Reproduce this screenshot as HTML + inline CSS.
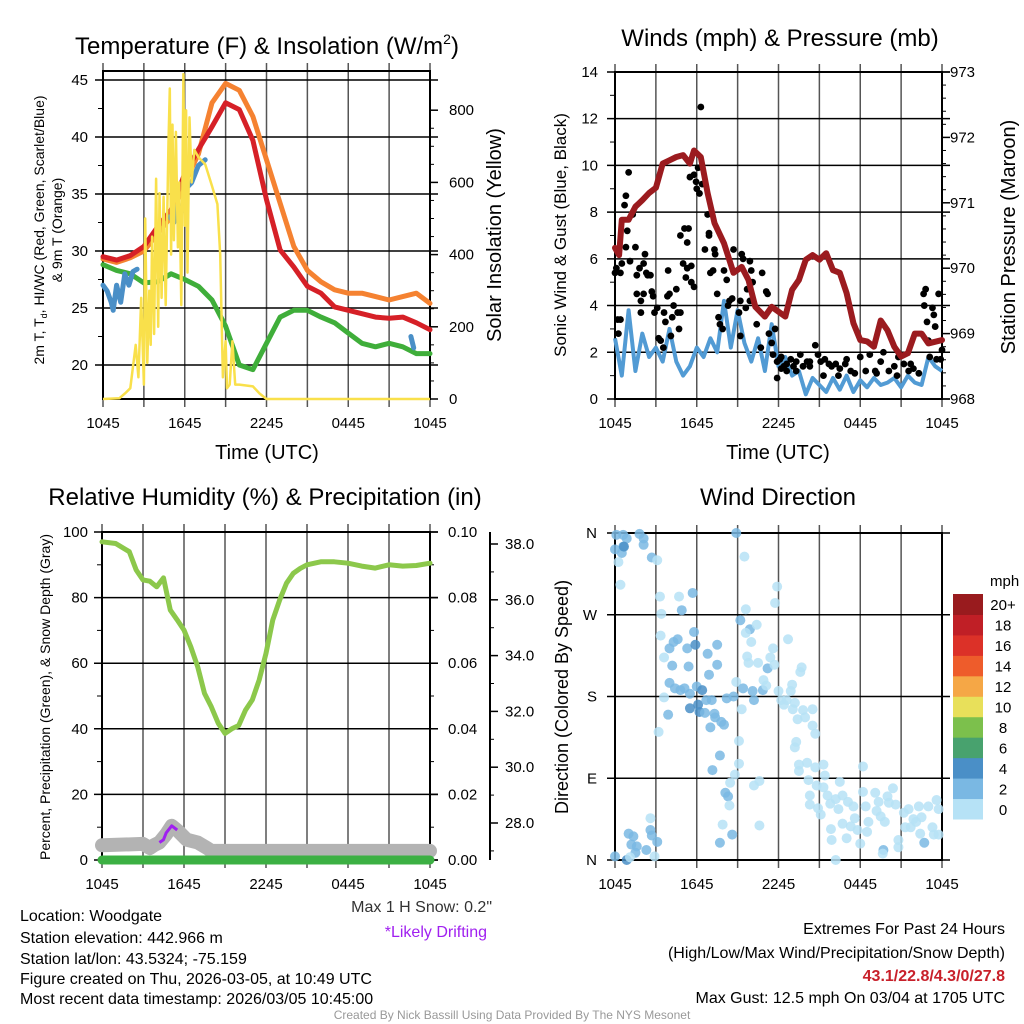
<!DOCTYPE html>
<html><head><meta charset="utf-8">
<style>
html,body{margin:0;padding:0;background:#fff;}
svg{display:block;font-family:"Liberation Sans",Arial,sans-serif;}
</style></head>
<body>
<svg id="c" width="1024" height="1024" viewBox="0 0 1024 1024" xmlns="http://www.w3.org/2000/svg">
<rect width="1024" height="1024" fill="#fff"/>
<text x="267" y="54" font-size="24" text-anchor="middle">Temperature (F) &amp; Insolation (W/m<tspan font-size="14" dy="-10">2</tspan><tspan dy="10">)</tspan></text>
<text x="780" y="46" font-size="24" text-anchor="middle">Winds (mph) &amp; Pressure (mb)</text>
<text x="265" y="505" font-size="24" text-anchor="middle">Relative Humidity (%) &amp; Precipitation (in)</text>
<text x="778" y="505" font-size="24" text-anchor="middle">Wind Direction</text>
<text x="267" y="459" font-size="20" text-anchor="middle">Time (UTC)</text>
<text x="778" y="459" font-size="20" text-anchor="middle">Time (UTC)</text>
<text transform="translate(44,230) rotate(-90)" font-size="14" text-anchor="middle">2m T, T<tspan font-size="9" dy="3">d</tspan><tspan dy="-3">, HI/WC (Red, Green, Scarlet/Blue)</tspan></text>
<text transform="translate(62,230) rotate(-90)" font-size="14" text-anchor="middle">&amp; 9m T (Orange)</text>
<text transform="translate(501,235) rotate(-90)" font-size="20" text-anchor="middle">Solar Insolation (Yellow)</text>
<text transform="translate(566,235) rotate(-90)" font-size="17" text-anchor="middle">Sonic Wind &amp; Gust (Blue, Black)</text>
<text transform="translate(1015,237) rotate(-90)" font-size="20" text-anchor="middle">Station Pressure (Maroon)</text>
<text transform="translate(50,697) rotate(-90)" font-size="14" text-anchor="middle">Percent, Precipitation (Green), &amp; Snow Depth (Gray)</text>
<text transform="translate(568,697) rotate(-90)" font-size="18" text-anchor="middle">Direction (Colored By Speed)</text>
<g font-size="16">
<text x="20" y="921">Location: Woodgate</text>
<text x="20" y="943">Station elevation: 442.966 m</text>
<text x="20" y="964">Station lat/lon: 43.5324; -75.159</text>
<text x="20" y="984">Figure created on Thu, 2026-03-05, at 10:49 UTC</text>
<text x="20" y="1004">Most recent data timestamp: 2026/03/05 10:45:00</text>
</g>
<text x="492" y="912" font-size="16" fill="#333" text-anchor="end">Max 1 H Snow: 0.2"</text>
<text x="487" y="937" font-size="16" fill="#a020f0" text-anchor="end">*Likely Drifting</text>
<g font-size="16" text-anchor="end">
<text x="1005" y="934">Extremes For Past 24 Hours</text>
<text x="1005" y="958">(High/Low/Max Wind/Precipitation/Snow Depth)</text>
<text x="1005" y="981" fill="#c8202a" font-weight="bold">43.1/22.8/4.3/0/27.8</text>
<text x="1005" y="1003">Max Gust: 12.5 mph On 03/04 at 1705 UTC</text>
</g>
<text x="512" y="1019" font-size="12" fill="#999" text-anchor="middle">Created By Nick Bassill Using Data Provided By The NYS Mesonet</text>
</svg>
<script>
const hours = [0,1,2,3,4,5,6,7,8,9,10,11,12,13,14,15,16,17,18,19,20,21,22,23,24];
const xTickLabels = ["1045","1645","2245","0445","1045"];
const tempTicks = [20,25,30,35,40,45];
const solarTicks = [0,200,400,600,800];
const temp2m = [29.5,29.2,29.6,30.4,32.1,33.6,36.8,38.9,40.9,43,42.4,39.7,34.5,30.1,28.6,26.9,26.3,25.1,24.8,24.5,24.2,24.1,24.2,23.7,23.1];
const temp9m = [29.3,29.0,29.4,30.0,31.5,33.0,36.0,38.5,43.0,44.7,44.1,41.8,38.0,34.2,30.4,28.3,27.3,26.6,26.3,26.3,26.0,25.7,26.0,26.3,25.4];
const dewpoint = [28.8,28.3,28.0,27.2,27.3,28.0,27.5,26.9,25.7,23.4,20.0,19.6,21.9,24.2,24.8,24.8,24.2,23.7,22.8,21.9,21.6,21.9,21.6,21.0,21.0];
const windChillT = [0,0.3,0.6,0.75,1.0,1.3,1.6,1.9,2.2,2.5,null,4.9,5.2,5.5,5.8,6.1,6.5,7.0,7.5,null,22.6,22.8];
const windChillV = [27,26.5,25.5,24.8,27,25.5,28,27,28.2,28.4,null,33,32.5,34,33.5,35.5,36,37.5,38,null,22.5,21.5];
const solarT = [0,1.2,1.6,2.0,2.4,2.6,2.8,3.0,3.1,3.25,3.4,3.5,3.6,3.75,3.9,4.05,4.15,4.3,4.45,4.6,4.8,4.9,5.0,5.1,5.2,5.35,5.5,5.6,5.75,5.9,6.0,6.1,6.2,6.35,6.5,6.7,7.0,7.5,8.0,8.4,8.6,8.8,9.0,9.1,9.3,9.5,9.7,10,11,11.5,12,24];
const solarV = [0,2,15,30,150,60,280,40,500,100,300,150,450,180,610,200,570,280,560,260,700,860,400,760,440,740,420,600,260,900,480,800,350,780,600,690,670,650,590,540,400,60,160,30,40,160,40,40,35,15,0,0];

const windTicks = [0,2,4,6,8,10,12,14];
const presTicks = [968,969,970,971,972,973];
const presT = [0,0.3,0.5,1,1.5,2,2.5,3,3.5,4,4.5,5,5.5,5.8,6.3,6.8,7.3,8,8.7,9.3,9.8,10.3,11,11.5,12.5,13,13.5,14,14.5,15,15.5,16,16.5,17,17.5,18,18.5,19,19.5,20,20.5,21,21.5,22,22.5,23,24];
const presV = [970.31,970.2,970.74,970.74,970.94,971.04,971.15,971.23,971.6,971.65,971.7,971.73,971.6,971.8,971.7,971.15,970.69,970.38,969.93,970.02,969.82,969.41,969.26,969.41,969.26,969.67,969.82,970.13,970.2,970.13,970.23,969.97,969.93,969.62,969.16,968.9,968.88,968.8,969.2,969.05,968.8,968.65,968.7,969.0,969.0,968.85,968.9];
const sonicV = [2.6,1.0,3.8,1.2,2.8,1.8,2.2,1.6,3.0,1.6,1.0,1.4,2.2,1.8,2.6,2.0,4.2,2.2,3.8,2.4,1.6,2.6,1.2,3.2,1.4,1.8,1.0,1.2,0.2,0.9,0.6,0.3,0.9,0.4,1.0,0.3,0.8,0.5,0.9,0.6,0.7,0.9,0.5,1.0,0.7,0.6,1.8,1.4,1.2];
const gustT = [0,0.1,0.2,0.4,0.25,0.5,0.4,0.7,0.8,1.0,0.9,0.8,1.1,1.3,1.5,1.6,1.6,1.8,1.9,2.1,2.2,2.3,2.4,2.1,2.6,1.9,2.7,2.8,2.9,3.1,3.2,3.35,3.55,3.6,3.7,3.85,4.0,3.9,4.1,4.2,4.3,4.5,4.6,4.7,4.8,4.8,5.1,5.3,5.4,5.0,5.3,5.6,5.2,5.6,5.8,5.5,5.8,5.95,6.1,6.0,6.2,6.3,6.4,6.6,6.9,6.8,6.9,7.0,7.2,7.3,7.35,7.5,7.6,7.7,7.9,8.0,8.2,8.3,8.4,8.6,8.7,9.1,9.2,9.3,9.4,9.2,9.6,9.7,9.9,9.9,10.0,10.1,10.4,10.7,10.8,11.1,11.2,11.3,11.5,11.6,11.75,11.9,12.1,12.2,12.4,12.6,12.9,13.1,13.3,13.6,13.8,14.1,14.3,14.7,14.9,15.1,15.4,15.7,15.9,16.2,16.5,16.9,17.3,17.6,18.0,18.4,18.7,19.1,19.5,19.7,20.1,20.5,20.8,21.2,21.55,21.9,22.3,22.65,22.8,22.7,22.9,23.0,23.3,23.4,23.5,23.75,23.6,24,23.9,23.1,12.6,13.3,14.3,15.3,16.4,17.0,19.2,20.7,21.7,11.9,12.2];
const gustV = [5.4,5.6,3.4,3.4,2.8,5.8,5.4,8.3,8.7,9.7,7.2,6.5,5.9,7.9,6.5,5.3,4.5,5.6,4.2,4.5,6.2,5.4,5.3,5.8,5.3,3.7,4.6,4.4,3.7,3.9,2.6,2.5,2.2,3.7,3.3,4.4,4.5,5.5,2.7,3.5,4.0,4.7,3.7,3.0,3.7,7.0,7.3,6.7,7.3,5.8,5.6,5.7,5.2,5.0,4.8,9.5,9.6,9.3,9.9,9.0,8.8,12.5,9.2,6.4,7.0,7.9,7.1,5.4,5.5,6.4,6.2,4.5,3.5,3.2,3.0,5.5,5.1,4.0,4.2,4.3,6.4,3.7,2.7,6.2,6.0,4.2,3.9,4.7,5.9,4.2,5.5,5.0,3.2,2.2,5.4,4.6,4.5,2.8,2.4,1.9,3.0,1.6,1.7,1.8,1.4,1.5,1.7,1.4,1.6,1.9,1.4,1.6,1.4,2.3,1.9,1.6,1.7,1.5,1.4,1.5,1.3,1.5,1.2,1.1,1.8,1.2,1.9,1.2,1.6,2.0,1.2,1.4,1.8,1.5,1.2,1.3,1.1,4.5,4.7,4.0,3.3,2.5,3.9,3.6,3.1,4.5,1.7,2.1,1.7,1.8,1.2,1.2,1.6,1.0,1.0,1.7,1.1,1.0,1.5,0.9,1.3];

const rhTicks = [0,20,40,60,80,100];
const precipTicks = ["0.00","0.02","0.04","0.06","0.08","0.10"];
const snowTicks = [28,30,32,34,36,38];
const rhT = [0,1,2,2.5,3,3.5,4,4.5,5,5.5,6,6.5,7,7.5,8,8.5,9,9.5,10,10.5,11,11.5,12,12.5,13,13.5,14,14.5,15,16,17,18,19,20,21,22,23,24];
const rhV = [97,96.5,94,88.4,85.4,85,83.3,86,76.2,73.2,70.1,65,58.9,50.8,46.7,41.7,38.6,40,41,45.7,48.8,54.9,63,73.2,79.3,84.4,87.4,88.9,90,90.9,90.9,90.5,89.6,89,90,89.6,89.8,90.5];
const precipT = [0,24];
const precipV = [0,0];
const snowT = [0,3.0,3.5,3.8,4.2,4.7,5.1,5.6,6.2,7,7.7,8,24];
const snowV = [27.2,27.25,27.1,27.2,27.3,27.6,27.9,27.7,27.4,27.3,27.1,27.0,27.0];
const driftT = [4.2,4.5,4.7,5.1,5.5];
const driftV = [27.3,27.4,27.65,27.9,27.75];

const dirTickLabels = ["N","E","S","W","N"];
const dirTicks = [0,90,180,270,360];
const speedBins = ["0","2","4","6","8","10","12","14","16","18","20+"];
const dirT = [0.1,0.6,0.86,1.8,2.1,2.1,0,0.6,0.5,0.66,0.25,0.4,2.7,3.1, 0,0.86,1.0,1.35,1.2,1.6,1.5,2.3,2.6,2.7,3.1,2.6,2.9,1.1, 3.3,4.7,5.7,4.9,3.4,3.35,4.3,4.6,4.0,3.6,5.3,5.8,5.9,7.5,6.8,7.5,4.2,5.4,6.9,4.0,4.4,5.1,3.6,4.8,5.5,6.0,6.4,6.1,5.5,6.2,6.6,3.9,7.3,7.35,7.0,7.8,8.0,3.2,6.7,7.1,8.2,8.7,7.7,7.15,8.1,8.3,8.4,8.45,8.8,7.9,7.7,8.6,8.9, 9.5,9.6,9.2,9.9,9.6,10.4,10.0,9.7,10.5,9.8,8.9,9.4,10.1,10.2,10.85,10.9,11.1,11.2,11.4,11.6,11.7,11.75,11.9,9.3,9.1,9.1,10.2,10.6,10.6, 12,12.2,12.6,12.4,13.2,13,12.7,12.9,13.05,13.4,13.8,14.5,13.95,14.5,14.7,13.3,13.2,13.7,13.6,13.5,14.1,13.5,14.7,15.3,15.4,14.2,14.8,15.3,14.3,15.6,16.2,16.7,16.4,15.8,15.1,15.85,15.9,16.2,14.9,14.3, 16.5,17.1,17.5,18.2,18.2,18.4,19.1,19.35,20,20.4,20.1,19.2,19.5,19.8,20.6,21.2,21.55,21.9,22.3,23.0,23.6,23.75,21.7,22.1,22.5,23.3,23.4,23.75,22.7,22.4,20.8,20.8,19.7,19.65,18.0,18.5,17.8,17.0,17.3,16.7,17.6,18.6,21.3];
const dirV = [358,358,354,359,354,347,342,345,338,345,328,303,333,330, 4,0,29,26,17,15,8,11,33,27,20,46,4,3, 290,290,294,275,271,247,240,243,233,223,233,251,237,237,227,215,214,213,204,195,189,189,179,187,183,191,187,171,167,163,162,160,161,157,146,152,149,141,176,176,178,180,115,99,74,70,60,85,94,39,19,28,360, 334,276,264,254,250,259,240,224,217,217,196,189,186,176,187,198,192,211,223,233,215,283,301,166,131,106,82,87,38, 186,176,176,171,173,193,243,186,166,155,165,166,157,148,139,130,124,212,207,105,107,98,102,105,93,88,82,80,71,71,67,71,56,62,50,34,22,0,57,61, 86,64,59,103,75,59,74,64,70,79,63,54,48,42,61,52,56,45,59,59,66,56,36,42,47,36,28,28,19,29,22,14,11,7,18,31,33,24,37,40,46,42,36];
const dirS = [2.5,2.5,2.5,2.5,2.5,2.5,3,3,2.5,4.5,1,1,2.5,1, 3,4.5,2.5,2.5,2.5,2.5,2.5,3,2.5,2.5,3,1,1,1, 1,1,3,3,1,1,3,3,2.5,1,3,3,4.5,3,3,3,3,3,3,3,3,3,1,2.5,2.5,3,4.5,4.5,4.5,4.5,3,3,3,3,3,2.5,3,1,2.5,2.5,3,3,3,3,3,3,1,1,1,1,3,3,3, 1,1,3,3,1,1,1,1,1,1,1,3,3,3,3,1,1,3,1,1,1,1,1,1,1,1,1,1,1, 1,1,1,1,1,1,1,1,1,1,1,1,1,1,1,1,1,1,1,1,1,1,1,1,1,1,1,1,1,1,1,1,1,1,1,1,1,1,1,1, 1,1,1,1,1,1,1,1,1,1,1,1,1,1,1,1,1,1,1,1,1,1,1,1,1,1,1,1,2.5,1,1,1,3,1,1,1,1,1,1,1,1,1,1];

const svg = document.getElementById('c');
const NS = 'http://www.w3.org/2000/svg';
function el(tag, attrs, parent){ const e=document.createElementNS(NS,tag); for(const k in attrs) e.setAttribute(k,attrs[k]); (parent||svg).appendChild(e); return e; }
function txt(x,y,s,size,anchor,parent){ const t=el('text',{x:x,y:y,'font-size':size,'text-anchor':anchor||'start'},parent); t.textContent=s; return t; }
function pathFrom(ts,vs,fx,fy){ let d='',pen=false; for(let i=0;i<ts.length;i++){ if(ts[i]===null||vs[i]===null){pen=false;continue;} d+=(pen?'L':'M')+fx(ts[i]).toFixed(1)+','+fy(vs[i]).toFixed(1); pen=true;} return d; }
function binColor(s){ const cols=['#b6e2f6','#7ab8e3','#4a8fc7','#48a26e','#7cc04c','#e8e05a','#f5a746','#ee5c2b','#dc3128','#c01f26','#991b1e']; return cols[Math.min(10,Math.floor(s/2))]; }

function frame(g,x0,x1,y0,y1){
  for(let h=0;h<=24;h+=3){ const x=x0+h*(x1-x0)/24;
    const l=el('line',{x1:x,x2:x,y1:y0-8,y2:y1+8,stroke:'#555','stroke-width':1.5},g);
    
     }
  el('rect',{x:x0,y:y0,width:x1-x0,height:y1-y0,fill:'none',stroke:'#000','stroke-width':2},g);
  for(let i=0;i<xTickLabels.length;i++){ const x=x0+i*6*(x1-x0)/24;
    const t=txt(x,y1+29,xTickLabels[i],15,'middle',g);
    
     }
}
function hgrid(g,x0,x1,ticks,fy,labels,lx){
  ticks.forEach((v,i)=>{ const y=fy(v);
    const l=el('line',{x1:x0-8,x2:x1+8,y1:y,y2:y,stroke:'#000','stroke-width':1.5},g);
    
    
    const t=txt(lx,y+5,labels[i],15,'end',g);
    
     });
}
function rightTicks(g,x,ticks,fy,labels,lx,minorN){
  ticks.forEach((v,i)=>{ const y=fy(v);
    el('line',{x1:x,x2:x+8,y1:y,y2:y,stroke:'#000','stroke-width':1.5},g);
    const t=txt(lx,y+5,labels[i],15,'start',g);
    
    
    if(i<ticks.length-1){ const y2=fy(ticks[i+1]); for(let k=1;k<minorN;k++){ const ym=y+(y2-y)*k/minorN; el('line',{x1:x,x2:x+4,y1:ym,y2:ym,stroke:'#000','stroke-width':1},g);} } });
}

{
const g=el('g',{});  
const x0=103,x1=430,y0=71,y1=399;
const tx=h=>x0+h*(x1-x0)/24, ty=v=>80+(45-v)*11.4, sy=v=>399-v*0.361;
frame(g,x0,x1,y0,y1);
hgrid(g,x0,x1,tempTicks,ty,tempTicks.map(String),88);
rightTicks(g,x1,solarTicks,sy,solarTicks.map(String),449,4);
for(let v=22.5;v<45;v+=5){ el('line',{x1:x0-5,x2:x0,y1:ty(v),y2:ty(v),stroke:'#000'},g); }
const mk=(ts,vs,col,w,name)=>{ const p=el('path',{d:pathFrom(ts,vs,tx,ty),fill:'none',stroke:col,'stroke-width':w,'stroke-linejoin':'round','stroke-linecap':'round'},g);   };
mk(hours,temp9m,'#f58231',5,'9m-temperature-line');
mk(hours,temp2m,'#d62027',5,'2m-temperature-line');
mk(hours,dewpoint,'#3fae3a',5,'dewpoint-line');
mk(windChillT,windChillV,'#4a8fc7',5,'wind-chill-line');
const sp=el('path',{d:pathFrom(solarT,solarV,tx,sy),fill:'none',stroke:'#f9e04b','stroke-width':2.5,'stroke-linejoin':'round'},g);


}

{
const g=el('g',{});  
const x0=615,x1=942,y0=72,y1=399;
const wx=h=>x0+h*(x1-x0)/24, wy=v=>399-v*23.36, py=p=>72+(973-p)*65.4;
frame(g,x0,x1,y0,y1);
hgrid(g,x0,x1,windTicks,wy,windTicks.map(String),598);
rightTicks(g,x1,presTicks,py,presTicks.map(String),950,5);
for(let v=1;v<14;v+=2){ el('line',{x1:x0-5,x2:x0,y1:wy(v),y2:wy(v),stroke:'#000'},g); }
const sonicT=sonicV.map((v,i)=>i*0.5);
const s=el('path',{d:pathFrom(sonicT,sonicV,wx,wy),fill:'none',stroke:'#529bd4','stroke-width':4,'stroke-linejoin':'round'},g);


gustT.forEach((t,i)=>{ const c=el('circle',{cx:wx(t),cy:wy(gustV[i]),r:3.4,fill:'#000'},g);
  
   });
const p=el('path',{d:pathFrom(presT,presV,wx,py),fill:'none',stroke:'#9b1b1f','stroke-width':6,'stroke-linejoin':'round','stroke-linecap':'round'},g);


}

{
const g=el('g',{});  
const x0=102,x1=430,y0=532,y1=860;
const bx=h=>x0+h*(x1-x0)/24, by=v=>860-v*3.28, ny=d=>544+(38-d)*27.9, pry=v=>860-v*3280;
frame(g,x0,x1,y0,y1);
hgrid(g,x0,x1,rhTicks,by,rhTicks.map(String),88);
rightTicks(g,x1,rhTicks,by,precipTicks,448,2);
for(let v=10;v<100;v+=20){ el('line',{x1:x0-5,x2:x0,y1:by(v),y2:by(v),stroke:'#000'},g); }
el('line',{x1:490,x2:490,y1:532,y2:860,stroke:'#000','stroke-width':2},g);
snowTicks.forEach(v=>{ el('line',{x1:490,x2:498,y1:ny(v),y2:ny(v),stroke:'#000','stroke-width':1.5},g);
  if(v<38) el('line',{x1:490,x2:494,y1:ny(v+1),y2:ny(v+1),stroke:'#000'},g);
  const t=txt(505,ny(v)+5,v.toFixed(1),15,'start',g);
  
   });
el('line',{x1:490,x2:494,y1:ny(27),y2:ny(27),stroke:'#000'},g);
const sn=el('path',{d:pathFrom(snowT,snowV,bx,ny),fill:'none',stroke:'#b3b3b3','stroke-width':14,'stroke-linejoin':'round','stroke-linecap':'round'},g);


const pr=el('path',{d:pathFrom(precipT,precipV,bx,pry),fill:'none',stroke:'#3cb043','stroke-width':9,'stroke-linecap':'round'},g);


const dr=el('path',{d:pathFrom(driftT,driftV,bx,ny),fill:'none',stroke:'#a020f0','stroke-width':3,'stroke-linejoin':'round'},g);


const rh=el('path',{d:pathFrom(rhT,rhV,bx,by),fill:'none',stroke:'#8cc84b','stroke-width':5,'stroke-linejoin':'round','stroke-linecap':'round'},g);


}

{
const g=el('g',{});  
const x0=615,x1=942,y0=533,y1=860;
const dx=h=>x0+h*(x1-x0)/24, dy=d=>860-d*(327/360);
frame(g,x0,x1,y0,y1);
hgrid(g,x0,x1,dirTicks,dy,dirTickLabels,597);
dirT.forEach((t,i)=>{ const c=el('circle',{cx:dx(t),cy:dy(dirV[i]),r:5,fill:binColor(dirS[i]),'fill-opacity':0.85},g);
  
   });
const cb=el('g',{},svg);  
const t0=txt(990,586,'mph',15,'start',cb);


const bh=(819-594)/speedBins.length;
speedBins.forEach((lab,i)=>{ const k=speedBins.length-1-i; const y=594+k*bh;
  const r=el('rect',{x:953,y:y,width:30,height:bh+0.5,fill:binColor(i*2)},cb);
  
  
  const t=txt(1003,y+bh/2+6,lab,15,'middle',cb);
  
   });
}
</script>
</body></html>
